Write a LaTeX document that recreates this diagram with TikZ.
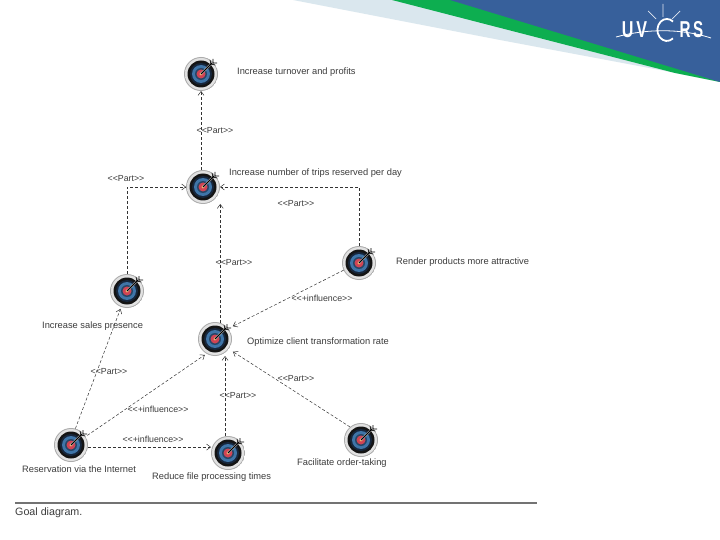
\documentclass[tikz,border=0pt]{standalone}
\usepackage{fontspec}
\setmainfont{Liberation Sans}
\usetikzlibrary{arrows.meta,calc}
\definecolor{bannerblue}{HTML}{37609B}
\definecolor{bannergreen}{HTML}{0DAE50}
\definecolor{bannerpale}{HTML}{DAE7EE}
\definecolor{labelgrey}{HTML}{3C3C3C}
\definecolor{ringblue}{HTML}{3F75A8}
\definecolor{ringdark}{HTML}{16263C}
\definecolor{ringred}{HTML}{D04454}
\definecolor{ringcore}{HTML}{F4B060}
\tikzset{
  x=1pt,y=-1pt,
  goal/.style={circle,minimum size=34pt,inner sep=0pt,outer sep=0pt,
    path picture={
      \fill[gray!65] (path picture bounding box.center) circle (17);
      \shade[inner color=white,outer color=gray!25] (path picture bounding box.center) circle (16);
      \fill[black!92] (path picture bounding box.center) circle (13.5);
      \fill[ringdark] (path picture bounding box.center) circle (11);
      \fill[ringblue] (path picture bounding box.center) circle (9);
      \fill[ringdark!60!ringblue] (path picture bounding box.center) circle (6);
      \fill[ringred] (path picture bounding box.center) circle (4.5);
      \fill[ringcore] (path picture bounding box.center) circle (1.6);
    }},
  dart/.style={line width=1.1pt,black},
  link/.style={draw=black!80,densely dashed,line width=0.5pt,-{Straight Barb[length=4pt,width=6pt,line width=0.5pt]}},
  goaltext/.style={inner sep=0pt,yshift=-1pt,text=labelgrey,font=\fontsize{9.3}{11}\selectfont,anchor=west},
  tag/.style={inner sep=0pt,yshift=-0.5pt,text=labelgrey,font=\fontsize{8.8}{10}\selectfont},
  logotext/.style={inner sep=0pt,text=white,font=\bfseries\fontsize{23}{24}\selectfont}
}
\newcommand{\goalmark}[3]{%
  \node[goal] (#1) at (#2,#3) {};
  \draw[white,line width=2pt] (#2,#3) -- ++(9,-9);
  \draw[dart] (#2,#3) -- ++(11,-11);
  \draw[black,line width=0.7pt] (#2+9,#3-14) -- (#2+10,#3-10) -- (#2+14,#3-9)
     (#2+12,#3-15) -- (#2+12,#3-11) -- (#2+16,#3-11);
}
\begin{document}
\begin{tikzpicture}
\useasboundingbox (0,0) rectangle (720,540);
\fill[white] (0,0) rectangle (720,540);
% banner
\fill[bannerpale] (293,0) -- (500,40) -- (660,70) -- (720,82) -- (720,0) -- cycle;
\fill[bannergreen] (392,0) -- (675,73) -- (720,82) -- (720,0) -- cycle;
\fill[bannerblue] (450,0) -- (720,82) -- (720,0) -- cycle;
% logo
\node[logotext,anchor=center] (logoa) at (634.5,30) {\scalebox{0.7}[1]{U\,V}};
\node[logotext,anchor=center] (logob) at (691.5,30) {\scalebox{0.66}[1]{R\,S}};
\draw[white,line width=1.8pt] (673,38.4) arc (50:310:9.5 and 11);
\draw[white,line width=0.8pt] (616,37) .. controls (645,29) and (680,28) .. (711,38);
\draw[white!85!bannerblue,line width=0.7pt] (663,4) -- (663,17) (648,11) -- (656,19) (680,11) -- (672,19);
% goals
\goalmark{top}{201}{74}
\goalmark{trips}{203}{187}
\goalmark{render}{359}{263}
\goalmark{sales}{127}{291}
\goalmark{opt}{215}{339}
\goalmark{res}{71}{445}
\goalmark{reduce}{228}{453}
\goalmark{fac}{361}{440}
% connectors
\draw[link] (top.south |- trips.north) -- (top.south);
\draw[link] (sales.north) |- (trips.west);
\draw[link] (render.north) |- (trips.east);
\draw[link] (opt.72) -- (opt.72 |- trips.south);
\draw[link,shorten >=5pt] (render.205) -- (opt.38);
\draw[link,shorten >=2pt] (res.75) -- (sales.250);
\draw[link,shorten >=2pt,shorten <=2pt] (res.30) -- (opt.240);
\draw[link] (res.-7) -- (res.-7 -| reduce.west);
\draw[link] (reduce.100) -- (reduce.100 |- opt.south);
\draw[link,shorten >=5pt] (fac.130) -- (opt.-36);
% goal labels
\node[goaltext] (ltop) at (237,71.5) {Increase turnover and profits};
\node[goaltext] (ltrips) at (229,172.5) {Increase number of trips reserved per day};
\node[goaltext] (lrender) at (396,261.5) {Render products more attractive};
\node[goaltext] (lsales) at (42,325) {Increase sales presence};
\node[goaltext] (lopt) at (247,341) {Optimize client transformation rate};
\node[goaltext] (lres) at (22,468) {Reservation via the Internet};
\node[goaltext] (lreduce) at (152,476.5) {Reduce file processing times};
\node[goaltext] (lfac) at (297,462) {Facilitate order-taking};
% connector labels
\node[tag] (t1) at (215,130.5) {<{}<Part>{}>};
\node[tag] (t2) at (126,178) {<{}<Part>{}>};
\node[tag] (t3) at (296,203.5) {<{}<Part>{}>};
\node[tag] (t4) at (234,262) {<{}<Part>{}>};
\node[tag] (t5) at (322,297.5) {<{}<+influence>{}>};
\node[tag] (t6) at (109,371.5) {<{}<Part>{}>};
\node[tag] (t7) at (158,408.5) {<{}<+influence>{}>};
\node[tag] (t8) at (153,439) {<{}<+influence>{}>};
\node[tag] (t9) at (238,395.5) {<{}<Part>{}>};
\node[tag] (t10) at (296,378.5) {<{}<Part>{}>};
% caption
\draw[black!55,line width=1.2pt] (15,503) -- (537,503);
\node[inner sep=0pt,anchor=west,text=labelgrey,font=\fontsize{10.7}{12}\selectfont] (cap) at (15,513) {Goal diagram.};
\end{tikzpicture}
\end{document}
